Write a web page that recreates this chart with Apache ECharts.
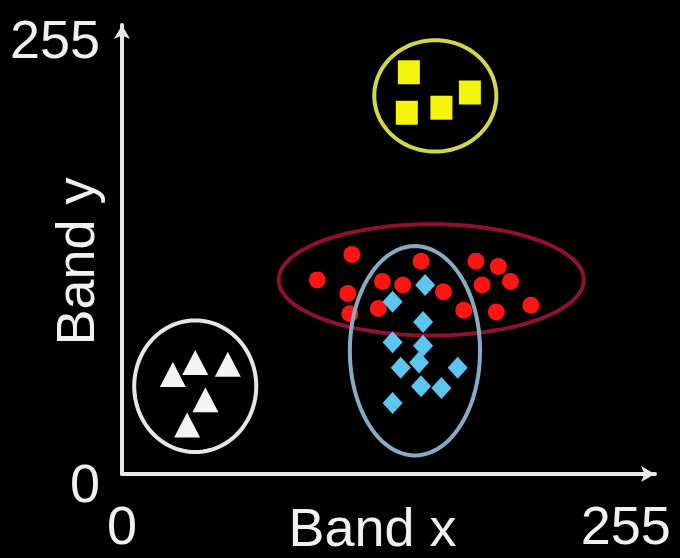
<!DOCTYPE html>
<html>
<head>
<meta charset="utf-8">
<script src="https://cdn.jsdelivr.net/npm/echarts@6/dist/echarts.min.js"></script>
<style>html,body{margin:0;padding:0;background:#000;}#c{width:680px;height:558px;}</style>
</head>
<body>
<div id="c"></div>
<script>
// ---- data (Band x, Band y digital numbers 0..255) ----
var axisTicks = [0, 255];
var xName = 'Band x';
var yName = 'Band y';

var redDots = [
  [113, 130], [96, 115], [111, 107], [112, 95], [128, 114], [138, 112],
  [126, 98], [147, 126], [174, 126], [185, 123], [191, 114], [177, 112],
  [168, 97], [184, 96], [201, 100], [158, 108]
];
var cyanDiamonds = [
  [149, 112], [133, 102], [148, 90], [133, 78], [148, 76], [137, 63],
  [165, 63], [147, 52], [157, 51], [133, 42], [146, 66]
];
var yellowSquares = [
  [141, 238], [140, 214], [157, 217], [171, 226]
];
var whiteTriangles = [
  [25, 59], [36, 66], [52, 65], [41, 44], [32, 29]
];
// cluster outlines: [centerX, centerY, radiusX, radiusY]
var redEllipse = [[152, 115, 75, 33]];
var cyanEllipse = [[144, 73, 32, 62]];
var yellowEllipse = [[154, 224, 30, 33]];
var whiteEllipse = [[36, 52, 30, 39]];

var FONT = "'Liberation Sans Narrow', 'Arial Narrow', 'Liberation Sans', Arial, sans-serif";
var FS = 54;

function ellipseSeries(data, color, z) {
  return {
    type: 'custom',
    data: data,
    silent: true,
    clip: false,
    z: z,
    renderItem: function (params, api) {
      var cx = api.value(0), cy = api.value(1), rx = api.value(2), ry = api.value(3);
      var pts = [];
      for (var i = 0; i < 96; i++) {
        var t = 2 * Math.PI * i / 96;
        pts.push(api.coord([cx + rx * Math.cos(t), cy + ry * Math.sin(t)]));
      }
      return {
        type: 'polygon',
        shape: { points: pts },
        style: { fill: 'none', stroke: color, lineWidth: 4 }
      };
    }
  };
}

var chart = echarts.init(document.getElementById('c'));
chart.setOption({
  backgroundColor: '#000',
  animation: false,
  grid: { left: 122, right: 25, top: 25, bottom: 84, containLabel: false, outerBoundsMode: 'none' },
  xAxis: {
    type: 'value', min: 0, max: 262,
    name: xName, nameLocation: 'middle', nameGap: 30, nameMoveOverlap: false,
    nameTextStyle: { color: '#f0f0f0', fontSize: FS, fontFamily: FONT, padding: [0, 32, 0, 0] },
    axisLine: { show: true, symbol: ['none', 'arrow'], symbolSize: [12, 14], lineStyle: { color: '#e8e8e8', width: 4 } },
    axisTick: { show: false },
    splitLine: { show: false },
    axisLabel: {
      customValues: axisTicks, margin: 28, color: '#f0f0f0', fontSize: FS, fontFamily: FONT,
      formatter: function (v) { return v === 255 ? '{r|255}' : '{n|' + v + '}'; },
      rich: {
        r: { color: '#f0f0f0', fontSize: FS, fontFamily: FONT, padding: [0, 30, 0, 0] },
        n: { color: '#f0f0f0', fontSize: FS, fontFamily: FONT }
      }
    }
  },
  yAxis: {
    type: 'value', min: 0, max: 266,
    name: yName, nameLocation: 'middle', nameGap: 16, nameMoveOverlap: false,
    nameTextStyle: { color: '#f0f0f0', fontSize: FS, fontFamily: FONT, padding: [0, 24, 0, 0] },
    axisLine: { show: true, symbol: ['none', 'arrow'], symbolSize: [12, 14], lineStyle: { color: '#e8e8e8', width: 4 } },
    axisTick: { show: false },
    splitLine: { show: false },
    axisLabel: {
      customValues: axisTicks, margin: 22, color: '#f0f0f0', fontSize: FS, fontFamily: FONT,
      formatter: function (v) { return v === 0 ? '{z|0}' : '{n|' + v + '}'; },
      rich: {
        z: { color: '#f0f0f0', fontSize: FS, fontFamily: FONT, padding: [26, 0, 0, 0] },
        n: { color: '#f0f0f0', fontSize: FS, fontFamily: FONT }
      }
    }
  },
  series: [
    ellipseSeries(redEllipse, '#8c1230', 1),
    { type: 'scatter', data: redDots, symbol: 'circle', symbolSize: 17, z: 2,
      itemStyle: { color: '#ff1414', opacity: 1 } },
    ellipseSeries(cyanEllipse, '#86acc4', 3),
    { type: 'scatter', data: cyanDiamonds, symbol: 'diamond', symbolSize: [20, 22], z: 4,
      itemStyle: { color: '#5cc6f0', opacity: 1 } },
    ellipseSeries(whiteEllipse, '#e6e6e6', 3),
    { type: 'scatter', data: whiteTriangles, symbol: 'triangle', symbolSize: [26, 25], z: 4,
      itemStyle: { color: '#f4f4f4', opacity: 1 } },
    ellipseSeries(yellowEllipse, '#d2d64a', 3),
    { type: 'scatter', data: yellowSquares, symbol: 'rect', symbolSize: [22, 24], z: 4,
      itemStyle: { color: '#f4f40c', opacity: 1 } }
  ]
});
</script>
</body>
</html>
